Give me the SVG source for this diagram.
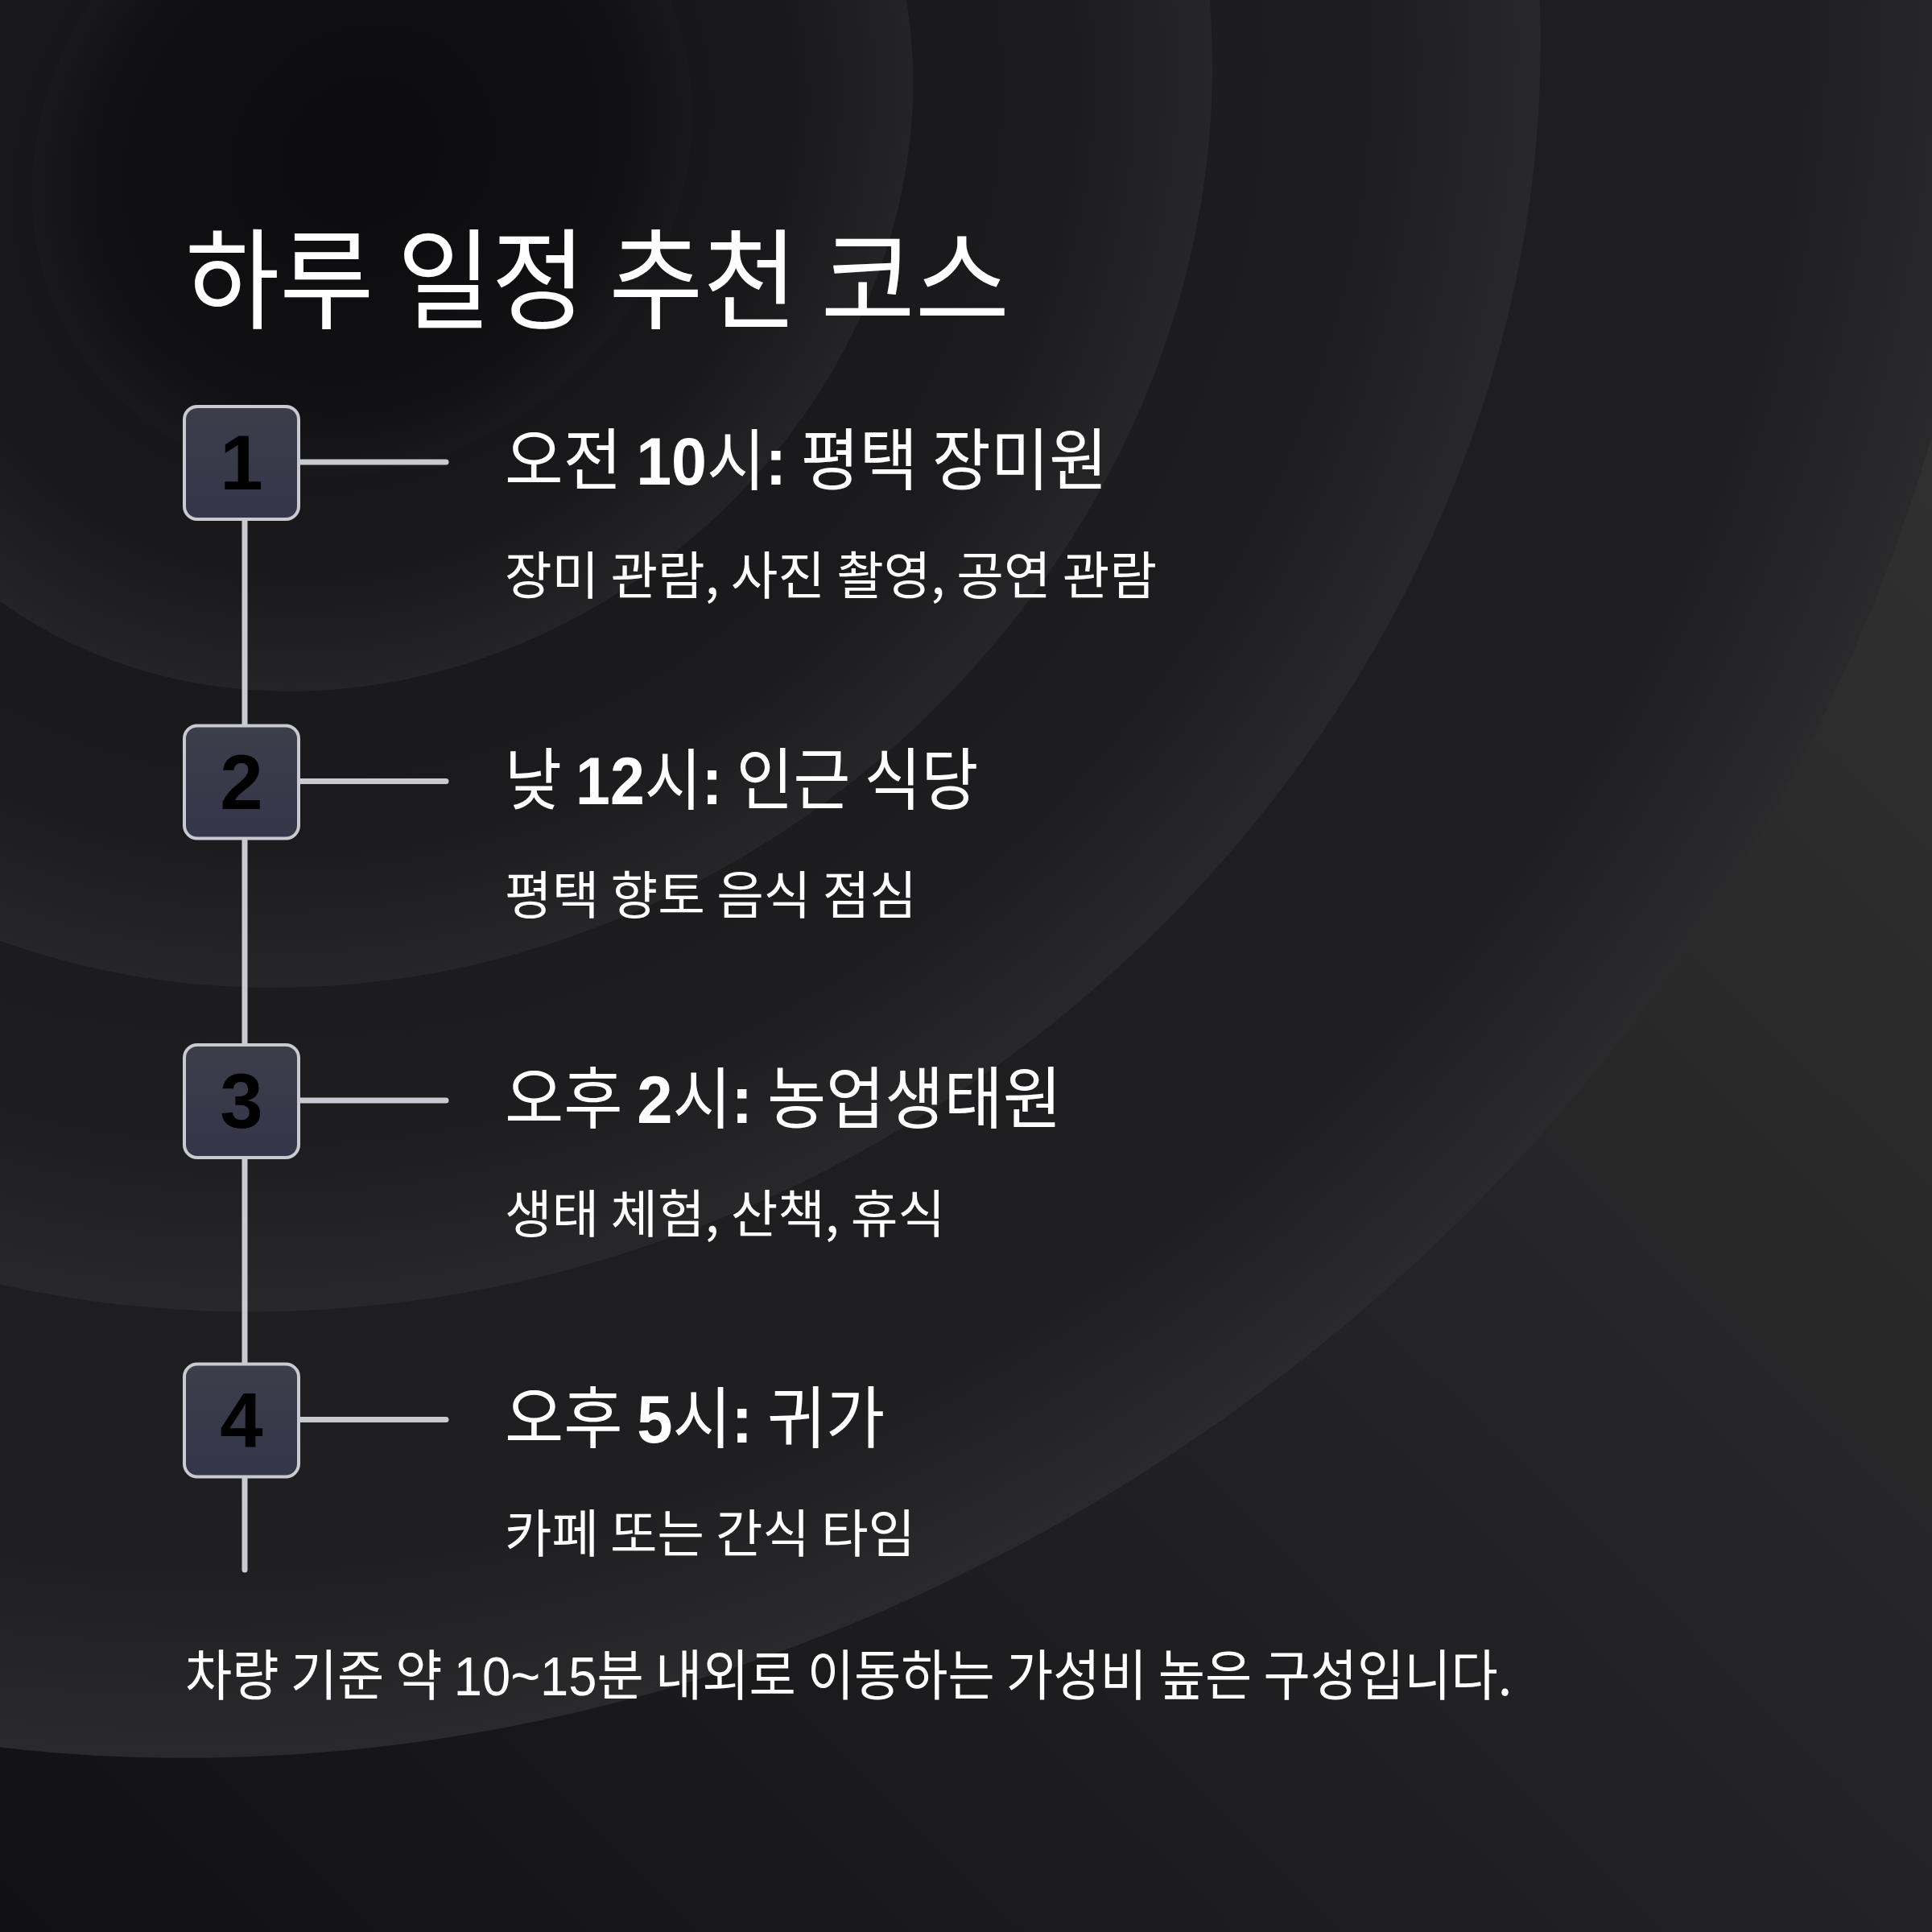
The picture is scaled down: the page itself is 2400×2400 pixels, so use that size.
<svg xmlns="http://www.w3.org/2000/svg" width="2400" height="2400" viewBox="0 0 2400 2400">
  <style>
    .kr { font-family: "Noto Sans CJK KR", "Noto Sans", sans-serif; fill: #ffffff; font-weight: 400; }
    .title { font-size: 136px; }
    .head { font-size: 84px; }
    .sub { font-size: 64px; }
    .foot { font-size: 68px; }
    .b { font-family: "Liberation Sans", Arial, sans-serif; font-weight: 700; }
    .lat { font-family: "Liberation Sans", Arial, sans-serif; }
    .box { fill: url(#boxg); stroke: #c9cacf; stroke-width: 4; }
    .num { font-family: "Liberation Sans", Arial, sans-serif; font-weight: 700; font-size: 96px; fill: #000000; text-anchor: middle; }
    .conn { stroke: #c9cacf; stroke-width: 7; stroke-linecap: round; fill: none; }
  </style>
  <defs>
    <linearGradient id="bg" x1="1" y1="0" x2="0" y2="1">
      <stop offset="0" stop-color="#343434"/>
      <stop offset="0.5" stop-color="#232325"/>
      <stop offset="1" stop-color="#111113"/>
    </linearGradient>
    <radialGradient id="r5" cx="0.5" cy="0.5" r="0.5">
      <stop offset="0" stop-color="#1b1b1d"/>
      <stop offset="0.88" stop-color="#1f1f21"/>
      <stop offset="1" stop-color="#2a2a2c"/>
    </radialGradient>
    <radialGradient id="r4" cx="0.5" cy="0.5" r="0.5">
      <stop offset="0" stop-color="#18181a"/>
      <stop offset="0.85" stop-color="#1d1d1f"/>
      <stop offset="1" stop-color="#28282a"/>
    </radialGradient>
    <radialGradient id="r3" cx="0.5" cy="0.5" r="0.5">
      <stop offset="0" stop-color="#151517"/>
      <stop offset="0.82" stop-color="#1b1b1d"/>
      <stop offset="1" stop-color="#262628"/>
    </radialGradient>
    <radialGradient id="r2" cx="0.5" cy="0.5" r="0.5">
      <stop offset="0" stop-color="#111113"/>
      <stop offset="0.78" stop-color="#19191b"/>
      <stop offset="1" stop-color="#242426"/>
    </radialGradient>
    <radialGradient id="r1" cx="0.5" cy="0.5" r="0.5">
      <stop offset="0" stop-color="#0c0c0e"/>
      <stop offset="0.8" stop-color="#111113"/>
      <stop offset="1" stop-color="#19191b"/>
    </radialGradient>
    <linearGradient id="boxg" x1="0" y1="0" x2="0" y2="1">
      <stop offset="0" stop-color="#3c3e4b"/>
      <stop offset="1" stop-color="#343649"/>
    </linearGradient>
  </defs>

  <g id="background">
    <rect x="0" y="0" width="2400" height="2400" fill="url(#bg)"/>
    <g transform="translate(450,190) rotate(-40)">
      <ellipse cx="0" cy="0" rx="2120" ry="1900" fill="url(#r5)"/>
      <ellipse cx="0" cy="0" rx="1520" ry="1380" fill="url(#r4)"/>
      <ellipse cx="0" cy="0" rx="1100" ry="990" fill="url(#r3)"/>
      <ellipse cx="0" cy="0" rx="720" ry="630" fill="url(#r2)"/>
      <ellipse cx="0" cy="0" rx="430" ry="380" fill="url(#r1)"/>
    </g>
  </g>

  <g id="title">
    <text class="kr title" x="230" y="398" textLength="1024" lengthAdjust="spacingAndGlyphs">하루 일정 추천 코스</text>
  </g>

  <g id="connectors">
    <line class="conn" x1="304" y1="574" x2="304" y2="1950"/>
    <line class="conn" x1="371" y1="574" x2="554" y2="574"/>
    <line class="conn" x1="371" y1="970.5" x2="554" y2="970.5"/>
    <line class="conn" x1="371" y1="1367" x2="554" y2="1367"/>
    <line class="conn" x1="371" y1="1763.5" x2="554" y2="1763.5"/>
  </g>

  <g id="step1">
    <rect class="box" x="229" y="505" width="142" height="140" rx="16"/>
    <text class="num" x="300" y="608">1</text>
    <text class="kr head" transform="translate(627,602) scale(0.941,1)">오전 <tspan class="b">10</tspan>시<tspan class="b">:</tspan> 평택 장미원</text>
    <text class="kr sub" x="627" y="738" textLength="810" lengthAdjust="spacingAndGlyphs">장미 관람, 사진 촬영, 공연 관람</text>
  </g>

  <g id="step2">
    <rect class="box" x="229" y="901.5" width="142" height="140" rx="16"/>
    <text class="num" x="300" y="1004.5">2</text>
    <text class="kr head" transform="translate(627,998.5) scale(0.917,1)">낮 <tspan class="b">12</tspan>시<tspan class="b">:</tspan> 인근 식당</text>
    <text class="kr sub" x="627" y="1134.5" textLength="512" lengthAdjust="spacingAndGlyphs">평택 향토 음식 점심</text>
  </g>

  <g id="step3">
    <rect class="box" x="229" y="1298" width="142" height="140" rx="16"/>
    <text class="num" x="300" y="1401">3</text>
    <text class="kr head" transform="translate(627,1395) scale(0.947,1)">오후 <tspan class="b">2</tspan>시<tspan class="b">:</tspan> 농업생태원</text>
    <text class="kr sub" x="627" y="1531" textLength="547" lengthAdjust="spacingAndGlyphs">생태 체험, 산책, 휴식</text>
  </g>

  <g id="step4">
    <rect class="box" x="229" y="1694.5" width="142" height="140" rx="16"/>
    <text class="num" x="300" y="1797.5">4</text>
    <text class="kr head" transform="translate(627,1791.5) scale(0.947,1)">오후 <tspan class="b">5</tspan>시<tspan class="b">:</tspan> 귀가</text>
    <text class="kr sub" x="627" y="1927.5" textLength="510" lengthAdjust="spacingAndGlyphs">카페 또는 간식 타임</text>
  </g>

  <g id="footer">
    <text class="kr foot" transform="translate(230,2106) scale(0.931,1)">차량 기준 약 <tspan class="lat">10~15</tspan>분 내외로 이동하는 가성비 높은 구성입니다.</text>
  </g>
</svg>
